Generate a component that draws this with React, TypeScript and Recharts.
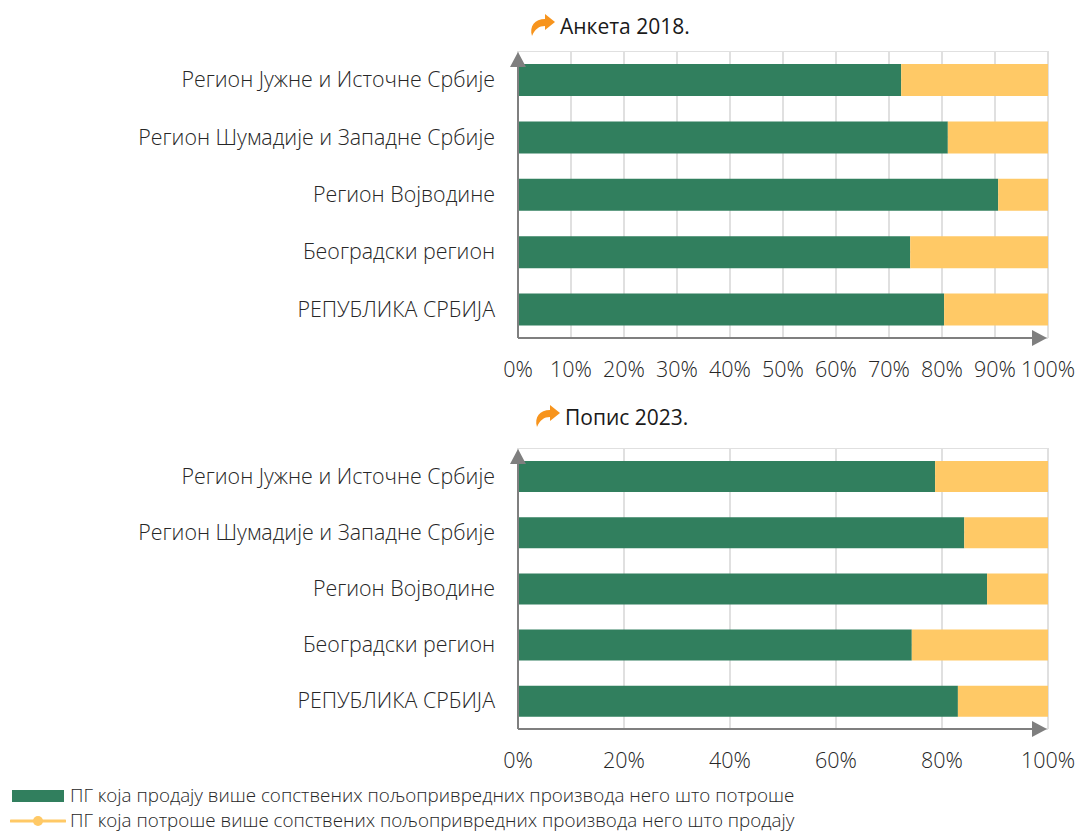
import React from 'react';
import { BarChart, Bar, XAxis, YAxis, CartesianGrid } from 'recharts';

const regions = [
  'Регион Јужне и Источне Србије',
  'Регион Шумадије и Западне Србије',
  'Регион Војводине',
  'Београдски регион',
  'РЕПУБЛИКА СРБИЈА',
];
const sells2018 = [72.3, 81.1, 90.6, 74.0, 80.4];
const consumes2018 = [27.7, 18.9, 9.4, 26.0, 19.6];
const sells2023 = [78.7, 84.2, 88.5, 74.3, 83.0];
const consumes2023 = [21.3, 15.8, 11.5, 25.7, 17.0];

const ticks2018 = [0, 10, 20, 30, 40, 50, 60, 70, 80, 90, 100];
const ticks2023 = [0, 20, 40, 60, 80, 100];

const legendLabels = [
  'ПГ која продају више сопствених пољопривредних производа него што потроше',
  'ПГ која потроше више сопствених пољопривредних производа него што продају',
];

const GREEN = '#317f5e';
const YELLOW = '#ffc966';
const AXIS_GRAY = '#7f7f7f';
const GRID = '#e0e0e0';
const TEXT = '#262626';
const FONT = '"Open Sans", sans-serif';

const toRows = (sells: number[], consumes: number[]) =>
  regions.map((region, i) => ({ region, sells: sells[i], consumes: consumes[i] }));

interface PanelProps {
  top: number;
  plotHeight: number;
  barSize: number;
  ticks: number[];
  sells: number[];
  consumes: number[];
  title: string;
  titleLeft: number;
  titleTop: number;
}

const CHART_WIDTH = 1076;
const PLOT_LEFT = 518;
const PLOT_RIGHT = 1048;
const AXIS_HEIGHT = 50;

const Panel: React.FC<PanelProps> = ({ top, plotHeight, barSize, ticks, sells, consumes, title, titleLeft, titleTop }) => (
  <>
    <div style={{ position: 'absolute', left: 0, top }}>
      <BarChart
        width={CHART_WIDTH}
        height={plotHeight + AXIS_HEIGHT}
        data={toRows(sells, consumes)}
        layout="vertical"
        margin={{ top: 0, right: CHART_WIDTH - PLOT_RIGHT, bottom: 0, left: 0 }}
      >
        <CartesianGrid stroke={GRID} strokeWidth={2} verticalValues={ticks} />
        <XAxis
          type="number"
          domain={[0, 100]}
          ticks={ticks}
          interval={0}
          tickFormatter={(v) => `${v}%`}
          tickLine={false}
          axisLine={false}
          height={AXIS_HEIGHT}
          tickMargin={18}
          tick={{ fill: TEXT, fontSize: 21.5, fontFamily: FONT, fontWeight: 300 }}
        />
        <YAxis
          type="category"
          dataKey="region"
          width={PLOT_LEFT}
          interval={0}
          tickLine={false}
          axisLine={false}
          tickMargin={17}
          tick={{ fill: TEXT, fontSize: 21.4, fontFamily: FONT, fontWeight: 300 }}
        />
        <Bar dataKey="sells" stackId="a" fill={GREEN} barSize={barSize} isAnimationActive={false} />
        <Bar dataKey="consumes" stackId="a" fill={YELLOW} barSize={barSize} isAnimationActive={false} />
      </BarChart>
    </div>
    {/* axis arrows sit on top of the plot */}
    <svg width={CHART_WIDTH} height={plotHeight + 30} style={{ position: 'absolute', left: 0, top: top - 10 }}>
      <line x1={PLOT_LEFT} y1={plotHeight + 10} x2={PLOT_LEFT} y2={14} stroke={AXIS_GRAY} strokeWidth={2} />
      <polygon
        points={`${PLOT_LEFT - 8},26 ${PLOT_LEFT + 8},26 ${PLOT_LEFT},11`}
        fill={AXIS_GRAY}
      />
      <line x1={PLOT_LEFT} y1={plotHeight + 10} x2={PLOT_RIGHT - 10} y2={plotHeight + 10} stroke={AXIS_GRAY} strokeWidth={2} />
      <polygon
        points={`${PLOT_RIGHT - 16},${plotHeight + 2} ${PLOT_RIGHT - 16},${plotHeight + 18} ${PLOT_RIGHT - 1},${plotHeight + 10}`}
        fill={AXIS_GRAY}
      />
    </svg>
    <svg width={28} height={24} style={{ position: 'absolute', left: titleLeft - 31, top: titleTop + 1 }}>
      <path
        d="M3 22 C0 12 6 5 16 5 L16 0 L26 8 L16 16 L16 12 C10 12 6 15 3 22 Z"
        fill="#f7941d"
      />
    </svg>
    <div
      style={{
        position: 'absolute',
        left: titleLeft,
        top: titleTop,
        fontFamily: FONT,
        fontSize: 21,
        color: '#1a1a1a',
        lineHeight: '26px',
        whiteSpace: 'nowrap',
      }}
    >
      {title}
    </div>
  </>
);

const LegendRow: React.FC<{ label: string; top: number; kind: 'bar' | 'line' }> = ({ label, top, kind }) => (
  <>
    <svg width={56} height={16} style={{ position: 'absolute', left: 10, top: top - 8 }}>
      {kind === 'bar' ? (
        <rect x={2} y={2} width={52} height={12} fill={GREEN} />
      ) : (
        <>
          <line x1={1} y1={8} x2={55} y2={8} stroke={YELLOW} strokeWidth={3} strokeLinecap="round" />
          <circle cx={28} cy={8} r={5} fill={YELLOW} />
        </>
      )}
    </svg>
    <div
      style={{
        position: 'absolute',
        left: 70,
        top: top - 13,
        lineHeight: '24px',
        fontFamily: FONT,
        fontSize: 18.8,
        fontWeight: 300,
        color: TEXT,
        whiteSpace: 'nowrap',
      }}
    >
      {label}
    </div>
  </>
);

export default function App() {
  return (
    <div style={{ position: 'absolute', left: 0, top: 0, width: 1076, height: 832, background: '#fff', overflow: 'hidden' }}>
      <Panel
        top={51}
        plotHeight={287}
        barSize={32}
        ticks={ticks2018}
        sells={sells2018}
        consumes={consumes2018}
        title="Анкета 2018."
        titleLeft={560}
        titleTop={13}
      />
      <Panel
        top={448}
        plotHeight={281}
        barSize={31}
        ticks={ticks2023}
        sells={sells2023}
        consumes={consumes2023}
        title="Попис 2023."
        titleLeft={565}
        titleTop={404}
      />
      <LegendRow label={legendLabels[0]} top={796} kind="bar" />
      <LegendRow label={legendLabels[1]} top={821} kind="line" />
    </div>
  );
}
